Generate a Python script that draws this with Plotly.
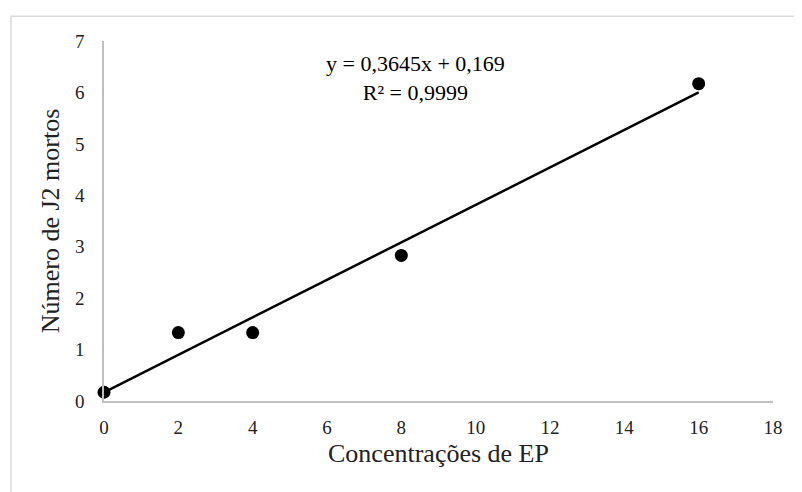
import plotly.graph_objects as go

# Data
concentracoes = [0, 2, 4, 8, 16]
j2_mortos = [0.17, 1.33, 1.33, 2.83, 6.17]
slope = 0.3645
intercept = 0.169
eq_text = "y = 0,3645x + 0,169"
r2_text = "R² = 0,9999"
x_ticks = [0, 2, 4, 6, 8, 10, 12, 14, 16, 18]
y_ticks = [0, 1, 2, 3, 4, 5, 6, 7]

trend_x = [min(concentracoes), max(concentracoes)]
trend_y = [slope * v + intercept for v in trend_x]

font_family = "Liberation Serif"

fig = go.Figure()
fig.add_trace(go.Scatter(x=trend_x, y=trend_y, mode="lines",
                         line=dict(color="black", width=2.5),
                         cliponaxis=False, showlegend=False, hoverinfo="skip"))
fig.add_trace(go.Scatter(x=concentracoes, y=j2_mortos, mode="markers",
                         marker=dict(color="black", size=13),
                         cliponaxis=False, showlegend=False))

fig.add_annotation(x=0.466, y=0.978, xref="paper", yref="paper",
                   yanchor="top", xanchor="center",
                   text=eq_text + "<br>" + r2_text, showarrow=False,
                   font=dict(family=font_family, size=22, color="black"),
                   align="center")

fig.add_shape(type="rect", xref="paper", yref="paper",
              x0=-0.139, x1=1.2, y0=-0.5, y1=1.069,
              line=dict(color="#d9d9d9", width=1.5), layer="below")

fig.update_layout(
    width=802, height=492,
    margin=dict(l=96, r=37, t=33, b=99),
    plot_bgcolor="white", paper_bgcolor="white",
    font=dict(family=font_family, color="#222"),
    xaxis=dict(range=[0, 18], tickvals=x_ticks, showgrid=False, zeroline=False,
               showline=True, linecolor="#bfbfbf", linewidth=1.5,
               ticks="outside", ticklen=8, tickcolor="rgba(0,0,0,0)",
               tickfont=dict(size=19, family=font_family, color="#222"),
               title=dict(text="Concentrações de EP", standoff=7,
                          font=dict(size=26, family=font_family, color="#222"))),
    yaxis=dict(range=[0, 7], tickvals=y_ticks, showgrid=False, zeroline=False,
               showline=True, linecolor="#bfbfbf", linewidth=1.5,
               ticks="outside", ticklen=14, tickcolor="rgba(0,0,0,0)",
               tickfont=dict(size=19, family=font_family, color="#222"),
               title=dict(text="Número de J2 mortos", standoff=8,
                          font=dict(size=26, family=font_family, color="#222"))),
)

fig.write_html("out.html")
